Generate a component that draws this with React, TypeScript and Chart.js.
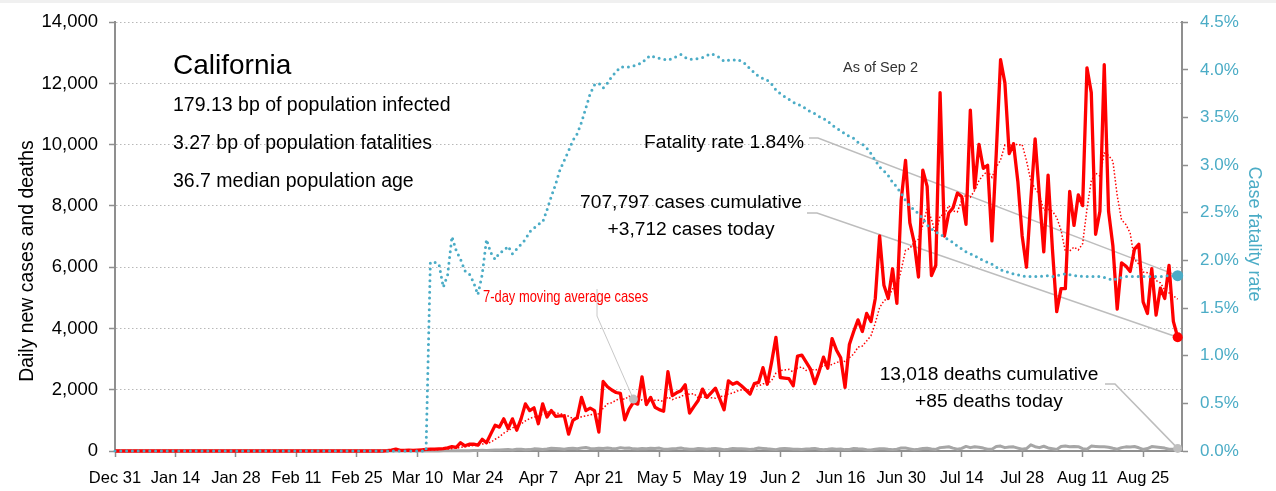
import React, { useEffect, useRef } from 'react';
import { Chart, registerables } from 'chart.js';

Chart.register(...registerables);

const FONT = "'Liberation Sans', Arial, Helvetica, sans-serif";
Chart.defaults.font.family = FONT;

// X axis: day index counted from Dec 31 (2019) to Sep 2 (2020)
const tickDays = [0, 14, 28, 42, 56, 70, 84, 98, 112, 126, 140, 154, 168, 182, 196, 210, 224, 238];
const tickLabels = ['Dec 31', 'Jan 14', 'Jan 28', 'Feb 11', 'Feb 25', 'Mar 10', 'Mar 24', 'Apr 7', 'Apr 21', 'May 5', 'May 19', 'Jun 2', 'Jun 16', 'Jun 30', 'Jul 14', 'Jul 28', 'Aug 11', 'Aug 25'];
const lastDay = 246; // Sep 2
const axisMaxDay = 247;

const zeros = (n: number) => new Array(n).fill(0);

// Daily new cases, days 60..246 (all earlier days are zero)
const casesFromDay60 = [
  0, 0, 0, 10, 30, 60, 20, 20, 30, 20,
  30, 40, 50, 60, 60, 70, 80, 100, 140, 120,
  270, 170, 220, 225, 190, 380, 270, 560, 840, 780,
  1050, 730, 1050, 680, 1050, 1540, 1320, 1410, 890, 1540,
  1110, 1320, 1130, 1150, 1150, 550, 1000, 1090, 1750, 1320,
  1400, 1320, 620, 2270, 2100, 1990, 1910, 1880, 1020, 1370,
  1590, 1530, 2420, 1515, 1750, 1430, 1350, 1300, 2590, 1810,
  1900, 1970, 2160, 1240, 1450, 1650, 2020, 1750, 1900, 2050,
  1700, 1345, 2290, 2180, 2240, 2130, 2000, 1860, 2200, 2240,
  2720, 2180, 2900, 3710, 2400, 2380, 2360, 2130, 3100, 3130,
  2900, 2670, 2200, 2600, 3065, 2700, 3670, 3300, 3040, 2075,
  3475, 3900, 4280, 3900, 4490, 4225, 4980, 7020, 5410, 4980,
  5950, 4820, 8200, 9490, 7450, 6810, 5680, 9170, 8640, 5730,
  6060, 11700, 7020, 7770, 7940, 8420, 8310, 7400, 11130, 8580,
  10010, 9230, 9330, 6860, 9710, 12775, 12020, 9710, 10030, 8800,
  7020, 6000, 8200, 10190, 8310, 6500, 9010, 6600, 4550, 5300,
  5300, 8475, 7365, 8365, 8010, 12510, 11700, 7075, 7830, 12610,
  7830, 6700, 4635, 6140, 6040, 5860, 6590, 6750, 4870, 4490,
  5950, 4440, 5320, 4980, 6060, 4230, 3712,
];

// Daily new deaths, days 71..246 (earlier days are zero)
const deathsFromDay71 = [
  1, 2, 2, 4, 3, 5, 6, 10, 6, 8,
  12, 10, 20, 18, 22, 18, 25, 30, 35, 42,
  50, 35, 60, 55, 40, 45, 70, 65, 50, 68,
  90, 80, 70, 60, 85, 90, 75, 95, 115, 80,
  70, 90, 85, 95, 80, 75, 110, 90, 95, 70,
  65, 80, 75, 90, 85, 95, 60, 55, 70, 80,
  95, 70, 60, 55, 80, 75, 60, 70, 85, 65,
  45, 60, 80, 75, 70, 65, 50, 65, 95, 85,
  70, 60, 45, 75, 80, 70, 55, 60, 50, 65,
  70, 85, 60, 40, 55, 75, 60, 65, 45, 50,
  80, 70, 65, 40, 35, 60, 75, 70, 55, 45,
  60, 100, 95, 70, 40, 55, 80, 90, 65, 50,
  110, 125, 140, 95, 60, 85, 150, 110, 140, 120,
  95, 55, 60, 145, 160, 110, 130, 135, 95, 55,
  80, 200, 140, 110, 155, 100, 75, 50, 145, 165,
  140, 150, 140, 75, 60, 160, 150, 140, 135, 125,
  90, 60, 110, 135, 130, 145, 105, 50, 80, 145,
  130, 115, 95, 55, 60, 85,
];

// Case fatality rate (%), days 73..246 (earlier days are zero)
const cfrFromDay73 = [
  1.98, 1.98, 1.96, 1.72, 1.85, 2.25, 2.10,
  2.01, 1.89, 1.86, 1.77, 1.64, 1.85, 2.22, 2.08, 2.01, 2.08,
  2.10, 2.15, 2.07, 2.12, 2.17, 2.22, 2.30, 2.34, 2.38, 2.40,
  2.53, 2.67, 2.80, 2.95, 3.05, 3.15, 3.26, 3.33, 3.45, 3.60,
  3.75, 3.84, 3.86, 3.81, 3.86, 3.93, 3.98, 4.03, 4.03, 4.03,
  4.04, 4.06, 4.07, 4.12, 4.15, 4.13, 4.12, 4.11, 4.10, 4.12,
  4.14, 4.16, 4.13, 4.11, 4.11, 4.12, 4.13, 4.15, 4.17, 4.15,
  4.13, 4.09, 4.10, 4.10, 4.11, 4.09, 4.06, 4.01, 3.97, 3.93,
  3.91, 3.89, 3.85, 3.79, 3.75, 3.72, 3.69, 3.66, 3.64, 3.62,
  3.59, 3.56, 3.54, 3.51, 3.49, 3.46, 3.42, 3.39, 3.36, 3.33,
  3.30, 3.28, 3.24, 3.22, 3.18, 3.12, 3.05, 2.98, 2.94, 2.89,
  2.82, 2.77, 2.70, 2.63, 2.57, 2.53, 2.49, 2.44, 2.37, 2.33,
  2.30, 2.27, 2.25, 2.21, 2.19, 2.15, 2.12, 2.09, 2.07, 2.05,
  2.02, 2.00, 1.98, 1.96, 1.93, 1.90, 1.89, 1.87, 1.86, 1.85,
  1.84, 1.83, 1.83, 1.83, 1.83, 1.84, 1.84, 1.83, 1.84, 1.85,
  1.86, 1.85, 1.84, 1.84, 1.83, 1.83, 1.83, 1.83, 1.83, 1.82,
  1.81, 1.79, 1.81, 1.82, 1.83, 1.83, 1.83, 1.83, 1.83, 1.83,
  1.83, 1.83, 1.83, 1.84, 1.84, 1.84, 1.84,
];

const cases = [...zeros(60), ...casesFromDay60];
const deaths = [...zeros(71), ...deathsFromDay71];
const cfr = [...zeros(73), ...cfrFromDay73];

// 7-day trailing moving average of the daily cases
const movingAvg = cases.map((_, i) => {
  const win = cases.slice(Math.max(0, i - 6), i + 1);
  return win.reduce((a, b) => a + b, 0) / win.length;
});

const annotationDay = 120;

const RED = '#FF0000';
const TEAL = '#4BACC6';
const GRAY_LINE = '#A6A6A6';
const AXIS = '#8F8F8F';
const LEADER = '#BDBDBD';

const fmt = new Intl.NumberFormat('en-US');

const decorPlugin = {
  id: 'decor',
  beforeDraw(chart: any) {
    const { ctx, width, height } = chart;
    ctx.save();
    ctx.fillStyle = '#ffffff';
    ctx.fillRect(0, 0, width, height);
    ctx.fillStyle = '#f0f0f0';
    ctx.fillRect(0, 0, width, 3);
    ctx.restore();
  },
  beforeDatasetsDraw(chart: any) {
    const { ctx, scales } = chart;
    const x = scales.x, y = scales.y, y1 = scales.y1;
    const lx = x.getPixelForValue(lastDay);
    const poly = (pts: number[][]) => {
      ctx.beginPath();
      pts.forEach(([px, py], i) => (i ? ctx.lineTo(px, py) : ctx.moveTo(px, py)));
      ctx.stroke();
    };
    ctx.save();
    ctx.strokeStyle = LEADER;
    ctx.lineWidth = 1.5;
    poly([[809, 138], [818, 138], [lx, y1.getPixelForValue(cfr[lastDay])]]);
    poly([[807, 213], [817, 213], [lx, y.getPixelForValue(cases[lastDay])]]);
    poly([[1105, 384], [1115, 384], [lx, y.getPixelForValue(deaths[lastDay])]]);
    ctx.lineWidth = 1;
    ctx.strokeStyle = '#C8C8C8';
    const mx = x.getPixelForValue(annotationDay);
    const my = y.getPixelForValue(movingAvg[annotationDay]);
    poly([[597, 289], [597, 316], [mx, my]]);
    ctx.restore();
  },
  afterDatasetsDraw(chart: any) {
    const { ctx, scales } = chart;
    const x = scales.x, y = scales.y;
    ctx.save();
    // marker on the moving average line
    ctx.fillStyle = '#BFBFBF';
    ctx.beginPath();
    ctx.arc(x.getPixelForValue(annotationDay), y.getPixelForValue(movingAvg[annotationDay]), 4.5, 0, Math.PI * 2);
    ctx.fill();

    ctx.textBaseline = 'alphabetic';
    ctx.fillStyle = '#000000';
    ctx.textAlign = 'left';
    ctx.font = `28px ${FONT}`;
    ctx.fillText('California', 173, 74);
    ctx.font = `19.5px ${FONT}`;
    ctx.fillText('179.13 bp of population infected', 173, 110.5);
    ctx.fillText('3.27 bp of population fatalities', 173, 149);
    ctx.fillText('36.7 median population age', 173, 187);

    ctx.fillStyle = '#333333';
    ctx.font = `14.5px ${FONT}`;
    ctx.fillText('As of Sep 2', 843, 71.5);

    ctx.fillStyle = '#000000';
    ctx.font = `19.2px ${FONT}`;
    ctx.textAlign = 'right';
    ctx.fillText('Fatality rate 1.84%', 804, 148);
    ctx.textAlign = 'center';
    ctx.fillText(`${fmt.format(707797)} cases cumulative`, 691, 208.3);
    ctx.fillText(`+${fmt.format(cases[lastDay])} cases today`, 691, 235);
    ctx.fillText(`${fmt.format(13018)} deaths cumulative`, 989, 379.5);
    ctx.fillText(`+${deaths[lastDay]} deaths today`, 989, 406.7);

    // red moving-average label (condensed)
    ctx.save();
    ctx.translate(483, 302);
    ctx.scale(0.76, 1);
    ctx.fillStyle = RED;
    ctx.textAlign = 'left';
    ctx.font = `17px ${FONT}`;
    ctx.fillText('7-day moving average cases', 0, 0);
    ctx.restore();

    // axis titles
    ctx.save();
    ctx.translate(33, 261);
    ctx.rotate(-Math.PI / 2);
    ctx.textAlign = 'center';
    ctx.fillStyle = '#000000';
    ctx.font = `19.4px ${FONT}`;
    ctx.fillText('Daily new cases and deaths', 0, 0);
    ctx.restore();

    ctx.save();
    ctx.translate(1248.5, 234);
    ctx.rotate(Math.PI / 2);
    ctx.textAlign = 'center';
    ctx.fillStyle = TEAL;
    ctx.font = `18px ${FONT}`;
    ctx.fillText('Case fatality rate', 0, 0);
    ctx.restore();

    ctx.restore();
  },
};

const lastOnly = (r: number) => (c: any) => (c.dataIndex === lastDay ? r : 0);

export default function App() {
  const canvasRef = useRef<HTMLCanvasElement | null>(null);

  useEffect(() => {
    const canvas = canvasRef.current;
    if (!canvas) return;
    const toXY = (arr: number[]) => arr.map((v, i) => ({ x: i, y: v }));
    const chart = new Chart(canvas, {
      type: 'line',
      data: {
        datasets: [
          {
            label: 'Case fatality rate',
            data: toXY(cfr),
            yAxisID: 'y1',
            borderColor: TEAL,
            borderWidth: 3,
            borderDash: [0, 5.8],
            borderCapStyle: 'round',
            pointRadius: lastOnly(5.5),
            pointBackgroundColor: TEAL,
            pointBorderColor: TEAL,
            pointBorderWidth: 0,
            tension: 0,
            clip: false,
          },
          {
            label: 'Daily new cases',
            data: toXY(cases),
            yAxisID: 'y',
            borderColor: RED,
            borderWidth: 3.3,
            borderJoinStyle: 'round',
            pointRadius: lastOnly(5),
            pointBackgroundColor: RED,
            pointBorderColor: RED,
            pointBorderWidth: 0,
            tension: 0,
            clip: false,
          },
          {
            label: '7-day moving average cases',
            data: toXY(movingAvg),
            yAxisID: 'y',
            borderColor: RED,
            borderWidth: 1.5,
            borderDash: [1.5, 2],
            pointRadius: 0,
            tension: 0,
            clip: false,
          },
          {
            label: 'Daily new deaths',
            data: toXY(deaths),
            yAxisID: 'y',
            borderColor: GRAY_LINE,
            borderWidth: 3,
            borderJoinStyle: 'round',
            pointRadius: lastOnly(4.5),
            pointBackgroundColor: '#BFBFBF',
            pointBorderColor: '#BFBFBF',
            pointBorderWidth: 0,
            tension: 0,
            clip: false,
          },
        ],
      },
      options: {
        animation: false,
        responsive: false,
        maintainAspectRatio: false,
        layout: { padding: { top: 17, left: 0, right: 0, bottom: 0 } },
        plugins: { legend: { display: false }, tooltip: { enabled: false } },
        scales: {
          x: {
            type: 'linear',
            min: 0,
            max: axisMaxDay,
            afterBuildTicks: (s: any) => {
              s.ticks = tickDays.map((v) => ({ value: v }));
            },
            afterFit: (s: any) => {
              s.height = 40;
            },
            ticks: {
              autoSkip: false,
              maxRotation: 0,
              minRotation: 0,
              padding: 12,
              color: '#000000',
              font: { size: 16.5, family: FONT },
              callback: (v: any) => tickLabels[tickDays.indexOf(Number(v))] ?? '',
            },
            grid: { drawOnChartArea: false, drawTicks: true, tickLength: 6, tickColor: AXIS, tickWidth: 1.5 },
            border: { color: AXIS, width: 2 },
          },
          y: {
            position: 'left',
            min: 0,
            max: 14000,
            afterFit: (s: any) => {
              s.width = 115;
            },
            ticks: {
              stepSize: 2000,
              padding: 11,
              color: '#000000',
              font: { size: 18.5, family: FONT },
              callback: (v: any) => fmt.format(Number(v)),
            },
            grid: { color: '#B8B8B8', lineWidth: 1, tickLength: 6, tickColor: AXIS, tickWidth: 1.5 },
            border: { color: AXIS, width: 2, dash: [1.5, 2.5] },
          },
          y1: {
            position: 'right',
            min: 0,
            max: 4.5,
            afterFit: (s: any) => {
              s.width = 94;
            },
            ticks: {
              stepSize: 0.5,
              padding: 12,
              color: TEAL,
              font: { size: 17, family: FONT },
              callback: (v: any) => `${Number(v).toFixed(1)}%`,
            },
            grid: { drawOnChartArea: false, tickLength: 6, tickColor: AXIS, tickWidth: 1.5 },
            border: { color: AXIS, width: 2 },
          },
        },
      } as any,
      plugins: [decorPlugin],
    });
    return () => chart.destroy();
  }, []);

  return (
    <div style={{ position: 'fixed', left: 0, top: 0, width: 1276, height: 491, background: '#ffffff' }}>
      <canvas ref={canvasRef} width={1276} height={491} style={{ display: 'block' }} />
    </div>
  );
}
